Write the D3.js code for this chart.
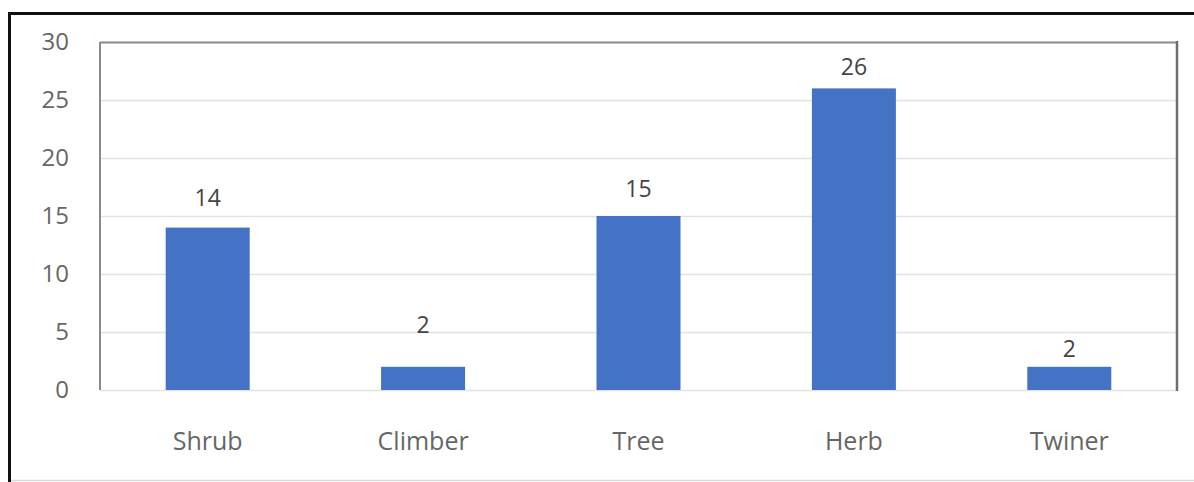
<!DOCTYPE html>
<html>
<head>
<meta charset="utf-8">
<script src="https://cdn.jsdelivr.net/npm/d3@7"></script>
<style>
  html, body { margin: 0; padding: 0; background: #fff; }
  svg { display: block; }
</style>
</head>
<body>
<svg id="chart" width="1194" height="482"></svg>
<script>
// Plant habit counts
const categories = ["Shrub", "Climber", "Tree", "Herb", "Twiner"];
const counts = [14, 2, 15, 26, 2];
const yTicks = [0, 5, 10, 15, 20, 25, 30];

const W = 1194, H = 482;
const plot = { left: 100, right: 1177, top: 42, bottom: 390 };
const font = "'Open Sans', Lato, sans-serif";
// gap (px) between each bar top and its value label baseline
const labelLift = [22, 34, 19, 13, 10];

const svg = d3.select("#chart");

// outer frame (top and left edges run into the page; faint bottom edge)
svg.append("rect")
  .attr("x", 9.5).attr("y", 13.5)
  .attr("width", W + 10).attr("height", H + 10)
  .attr("fill", "none").attr("stroke", "#111").attr("stroke-width", 3);
svg.append("line")
  .attr("x1", 11).attr("x2", W)
  .attr("y1", 480.5).attr("y2", 480.5)
  .attr("stroke", "#d8d8d8").attr("stroke-width", 1.5);

const x = d3.scaleBand()
  .domain(categories)
  .range([plot.left, plot.right])
  .paddingInner(0.61)
  .paddingOuter(0.305);

const y = d3.scaleLinear()
  .domain([0, 30])
  .range([plot.bottom, plot.top]);

// horizontal gridlines
svg.append("g")
  .selectAll("line")
  .data(yTicks)
  .join("line")
  .attr("x1", plot.left).attr("x2", plot.right)
  .attr("y1", d => y(d) + 0.5).attr("y2", d => y(d) + 0.5)
  .attr("stroke", d => d === 30 ? "#8a8a8a" : "#e3e3e3")
  .attr("stroke-width", d => d === 30 ? 2 : 1.5);

// plot area side borders
svg.append("line")
  .attr("x1", plot.left).attr("x2", plot.left)
  .attr("y1", plot.top).attr("y2", plot.bottom)
  .attr("stroke", "#8a8a8a").attr("stroke-width", 2);
svg.append("line")
  .attr("x1", plot.right).attr("x2", plot.right)
  .attr("y1", plot.top - 1).attr("y2", plot.bottom + 1)
  .attr("stroke", "#6e6e6e").attr("stroke-width", 2.5);

// y axis labels
const yAxis = d3.axisLeft(y).tickValues(yTicks).tickSize(0).tickPadding(31);
const gy = svg.append("g")
  .attr("transform", `translate(${plot.left},0)`)
  .call(yAxis);
gy.select(".domain").remove();
gy.selectAll("text")
  .attr("font-family", font).attr("font-size", 24)
  .attr("fill", "#666");

// bars
svg.append("g")
  .selectAll("rect")
  .data(categories)
  .join("rect")
  .attr("x", d => x(d))
  .attr("width", x.bandwidth())
  .attr("y", (d, i) => y(counts[i]))
  .attr("height", (d, i) => y(0) - y(counts[i]))
  .attr("fill", "#4472c4");

// value labels
svg.append("g")
  .selectAll("text")
  .data(categories)
  .join("text")
  .attr("x", d => x(d) + x.bandwidth() / 2)
  .attr("y", (d, i) => y(counts[i]) - labelLift[i])
  .attr("text-anchor", "middle")
  .attr("font-family", font).attr("font-size", 23)
  .attr("fill", "#444")
  .text((d, i) => counts[i]);

// x axis labels
const xAxis = d3.axisBottom(x).tickSize(0).tickPadding(42);
const gx = svg.append("g")
  .attr("transform", `translate(0,${plot.bottom})`)
  .call(xAxis);
gx.select(".domain").remove();
gx.selectAll("text")
  .attr("font-family", font).attr("font-size", 25)
  .attr("fill", "#666");
</script>
</body>
</html>
